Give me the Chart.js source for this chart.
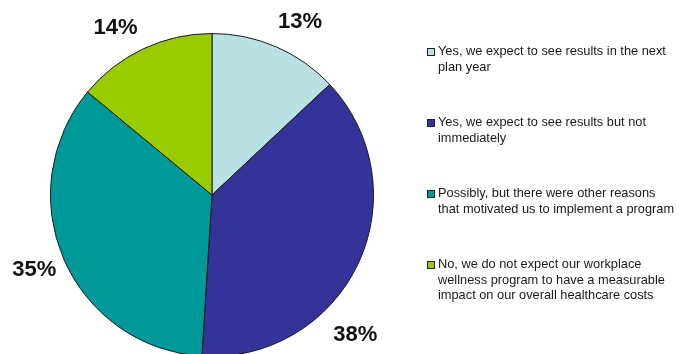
<!DOCTYPE html>
<html>

<head>
  <meta charset="UTF-8" />
  <title>Expected results</title>
  <script src="https://cdn.jsdelivr.net/npm/chart.js"></script>
  <style>
    html,
    body {
      margin: 0;
      padding: 0;
      background: #fff;
      overflow: hidden;
      width: 679px;
      height: 354px;
    }

    .pie-wrap {
      position: absolute;
      left: 0;
      top: 0;
      width: 679px;
      height: 390px;
    }

    .legend {
      position: absolute;
      left: 427px;
      top: 43px;
      margin: 0;
      padding: 0;
      list-style: none;
      font-family: "Liberation Sans", Arial, sans-serif;
      font-size: 12.8px;
      line-height: 15.5px;
      color: #1a1a1a;
      white-space: nowrap;
    }

    .legend li {
      position: relative;
      padding-left: 11px;
      height: 71px;
    }

    .legend .box {
      position: absolute;
      left: 0;
      top: 5px;
      width: 6px;
      height: 6px;
      border: 1px solid #222;
    }
  </style>
</head>

<body>
  <div class="pie-wrap"><canvas id="pieChart"></canvas></div>
  <ul class="legend" id="legend"></ul>

  <script>
    const categories = [
      ["Yes, we expect to see results in the next", "plan year"],
      ["Yes, we expect to see results but not", "immediately"],
      ["Possibly, but there were other reasons", "that motivated us to implement a program"],
      ["No, we do not expect our workplace", "wellness program to have a measurable", "impact on our overall healthcare costs"]
    ];
    const percents = [13, 38, 35, 14];
    const colors = ["#b9e0e3", "#333399", "#009999", "#99cc00"];
    // nudges for the outside labels, relative to the slice's mid-angle anchor
    const labelNudge = [[12, 3], [-30, 58], [-2, -1], [-15, 6]];

    const legend = document.getElementById("legend");
    categories.forEach((lines, i) => {
      const li = document.createElement("li");
      const box = document.createElement("span");
      box.className = "box";
      box.style.background = colors[i];
      li.appendChild(box);
      lines.forEach((line, j) => {
        if (j > 0) li.appendChild(document.createElement("br"));
        li.appendChild(document.createTextNode(line));
      });
      legend.appendChild(li);
    });

    const outsideLabels = {
      id: "outsideLabels",
      afterDatasetsDraw(chart) {
        const ctx = chart.ctx;
        const arcs = chart.getDatasetMeta(0).data;
        ctx.save();
        ctx.font = "bold 22px 'Liberation Sans', Arial, sans-serif";
        ctx.fillStyle = "#111";
        ctx.textAlign = "center";
        ctx.textBaseline = "middle";
        arcs.forEach((arc, i) => {
          const mid = (arc.startAngle + arc.endAngle) / 2;
          const r = arc.outerRadius + 30;
          const x = arc.x + Math.cos(mid) * r + labelNudge[i][0];
          const y = arc.y + Math.sin(mid) * r + labelNudge[i][1];
          ctx.fillText(percents[i] + "%", x, y);
        });
        ctx.restore();
      }
    };

    new Chart(document.getElementById("pieChart"), {
      type: "pie",
      data: {
        labels: categories.map(l => l.join(" ")),
        datasets: [{
          data: percents,
          backgroundColor: colors,
          borderColor: "#1a1a1a",
          borderWidth: 1
        }]
      },
      options: {
        responsive: true,
        maintainAspectRatio: false,
        animation: false,
        layout: { padding: { left: 50, right: 305, top: 33, bottom: 33 } },
        plugins: {
          legend: { display: false },
          tooltip: { enabled: false }
        }
      },
      plugins: [outsideLabels]
    });
  </script>
</body>

</html>
